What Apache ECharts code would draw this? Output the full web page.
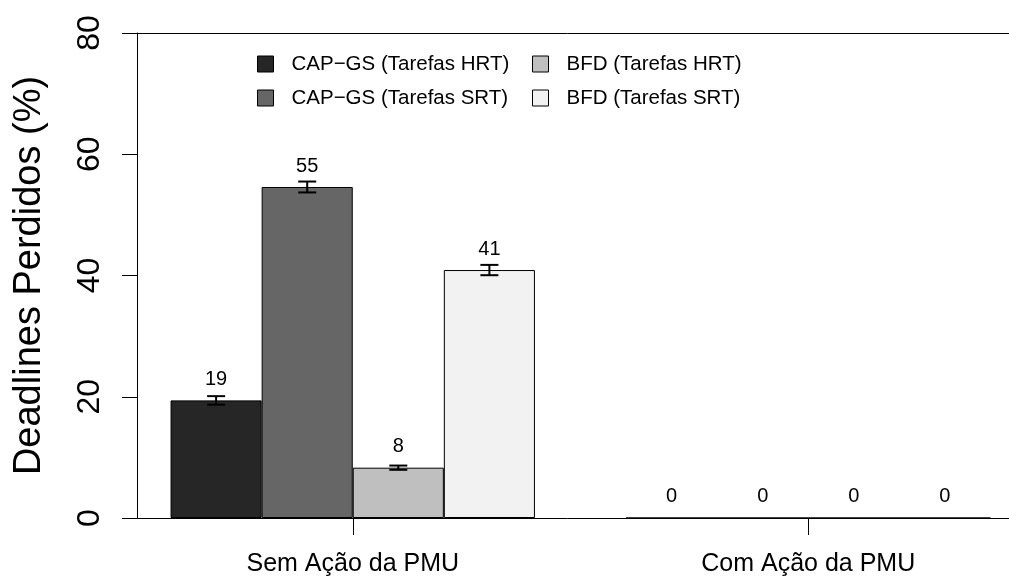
<!DOCTYPE html>
<html>
<head>
<meta charset="utf-8">
<script src="https://cdn.jsdelivr.net/npm/echarts@6/dist/echarts.min.js"></script>
<style>
  html, body { margin: 0; padding: 0; background: #fff; }
  #chart { width: 1009px; height: 579px; }
</style>
</head>
<body>
<div id="chart"></div>
<script>
// Scenario groups on the x axis
const categories = ['Sem Ação da PMU', 'Com Ação da PMU'];

// Series names (legend order)
const seriesNames = [
  'CAP\u2212GS (Tarefas HRT)',
  'CAP\u2212GS (Tarefas SRT)',
  'BFD (Tarefas HRT)',
  'BFD (Tarefas SRT)'
];

// Missed deadlines (%) per group
const capgsHrt = [19.4, 0];
const capgsSrt = [54.6, 0];
const bfdHrt = [8.3, 0];
const bfdSrt = [40.9, 0];

// Error-bar half widths (%)
const capgsHrtErr = [0.7, 0];
const capgsSrtErr = [0.9, 0];
const bfdHrtErr = [0.35, 0];
const bfdSrtErr = [0.85, 0];

// Y axis scale
const yMin = 0;
const yMax = 80;
const yStep = 20;

const fills = ['#262626', '#666666', '#BFBFBF', '#F2F2F2'];
const values = [capgsHrt, capgsSrt, bfdHrt, bfdSrt];
const errors = [capgsHrtErr, capgsSrtErr, bfdHrtErr, bfdSrtErr];
const FONT = "'Liberation Sans', Arial, Helvetica, sans-serif";

const barSeries = values.map((vals, k) => ({
  name: seriesNames[k],
  type: 'bar',
  data: vals,
  barWidth: '20%',
  barGap: '0%',
  itemStyle: { color: fills[k], borderColor: '#000', borderWidth: 1 },
  label: {
    show: true,
    position: 'top',
    distance: 11,
    color: '#000',
    fontFamily: FONT,
    fontSize: 20,
    formatter: p => String(Math.round(p.value))
  },
  emphasis: { disabled: true },
  animation: false
}));

// error bars: [categoryIndex, value, halfWidth, seriesIndex]
const errData = [];
values.forEach((vals, k) => {
  vals.forEach((v, i) => errData.push([i, v, errors[k][i], k]));
});

const errSeries = {
  type: 'custom',
  data: errData,
  z: 10,
  silent: true,
  animation: false,
  renderItem: (params, api) => {
    const cat = api.value(0), v = api.value(1), e = api.value(2), k = api.value(3);
    if (!e) return null;
    const band = api.size([1, 0])[0];
    const cx = api.coord([cat, v])[0] + (k - 1.5) * band * 0.2;
    const yTop = api.coord([cat, v + e])[1];
    const yBot = api.coord([cat, v - e])[1];
    const half = 9;
    const st = { stroke: '#000', lineWidth: 2 };
    return {
      type: 'group',
      children: [
        { type: 'line', shape: { x1: cx, y1: yTop, x2: cx, y2: yBot }, style: st },
        { type: 'line', shape: { x1: cx - half, y1: yTop, x2: cx + half, y2: yTop }, style: st },
        { type: 'line', shape: { x1: cx - half, y1: yBot, x2: cx + half, y2: yBot }, style: st }
      ]
    };
  }
};

const legendText = {
  color: '#000',
  fontFamily: FONT,
  fontSize: 20.5,
  lineHeight: 24,
  padding: [0, 0, 0, 13]
};

const legendBase = {
  orient: 'vertical',
  top: 47,
  icon: 'rect',
  itemWidth: 16,
  itemHeight: 16,
  itemGap: 10,
  selectedMode: false,
  textStyle: legendText,
  itemStyle: { borderColor: '#000', borderWidth: 1 }
};

const option = {
  backgroundColor: '#fff',
  animation: false,
  grid: { left: 125, top: 33, width: 911, height: 485, containLabel: false, outerBoundsMode: 'none' },
  legend: [
    Object.assign({}, legendBase, { left: 252, data: [seriesNames[0], seriesNames[1]] }),
    Object.assign({}, legendBase, { left: 527, data: [seriesNames[2], seriesNames[3]] })
  ],
  xAxis: [
    {
      type: 'category',
      data: categories,
      position: 'bottom',
      axisLine: { show: true, lineStyle: { color: '#000', width: 1 } },
      axisTick: { show: true, alignWithLabel: true, length: 17, lineStyle: { color: '#000', width: 1 } },
      axisLabel: { color: '#000', fontFamily: FONT, fontSize: 25, margin: 34 },
      splitLine: { show: false }
    },
    {
      type: 'category',
      data: categories,
      position: 'top',
      axisLine: { show: true, lineStyle: { color: '#000', width: 1 } },
      axisTick: { show: false },
      axisLabel: { show: false },
      splitLine: { show: false }
    }
  ],
  yAxis: {
    type: 'value',
    min: yMin,
    max: yMax,
    interval: yStep,
    offset: -12,
    name: 'Deadlines Perdidos (%)',
    nameLocation: 'middle',
    nameRotate: 90,
    nameGap: 88,
    nameTextStyle: { color: '#000', fontFamily: FONT, fontSize: 38 },
    axisLine: { show: true, lineStyle: { color: '#000', width: 1 } },
    axisTick: { show: true, length: 15, lineStyle: { color: '#000', width: 1 } },
    axisLabel: { color: '#000', fontFamily: FONT, fontSize: 32, rotate: 90, margin: 31 },
    splitLine: { show: false }
  },
  series: barSeries.concat([errSeries])
};

const chart = echarts.init(document.getElementById('chart'), null, { renderer: 'canvas' });
chart.setOption(option);
</script>
</body>
</html>
